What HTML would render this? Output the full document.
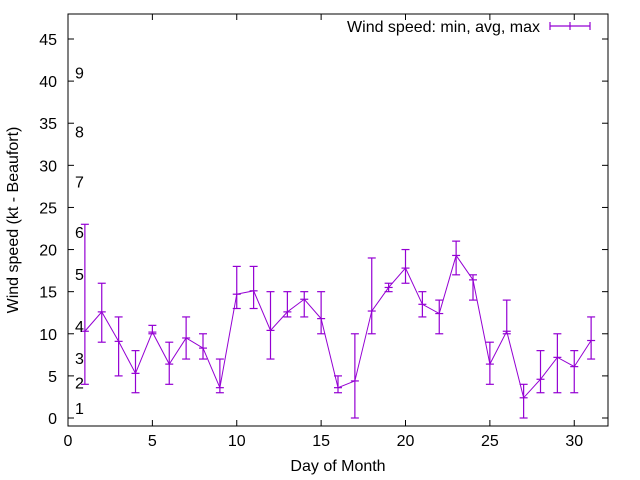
<!DOCTYPE html>
<html><head><meta charset="utf-8"><style>
html,body{margin:0;padding:0;background:#fff;}
svg{display:block;font-family:"Liberation Sans",sans-serif;}
</style></head><body>
<svg id="chart" width="640" height="480" viewBox="0 0 640 480" xmlns="http://www.w3.org/2000/svg">
<rect x="0" y="0" width="640" height="480" fill="#fff"/>
<g id="marks"></g>
<g id="axes"></g>
</svg>
<script>
const days = [1,2,3,4,5,6,7,8,9,10,11,12,13,14,15,16,17,18,19,20,21,22,23,24,25,26,27,28,29,30,31];
const avgSpeed = [10.3,12.6,9.1,5.3,10.2,6.4,9.5,8.3,3.6,14.7,15.1,10.4,12.6,14.1,11.8,3.6,4.4,12.7,15.5,17.8,13.5,12.4,19.3,16.4,6.4,10.3,2.4,4.6,7.2,6.1,9.2];
const minSpeed = [4,9,5,3,10,4,7,7,3,13,13,7,12,12,10,3,0,10,15,16,12,10,17,14,4,10,0,3,3,3,7];
const maxSpeed = [23,16,12,8,11,9,12,10,7,18,18,15,15,15,15,5,10,19,16,20,15,14,21,17,9,14,4,8,10,8,12];
const xTicks = [0,5,10,15,20,25,30];
const yTicks = [0,5,10,15,20,25,30,35,40,45];
const beaufortLabels = ["1","2","3","4","5","6","7","8","9"];
const beaufortValues = [1.2,4.2,7.1,10.9,17.1,22.1,28.1,34,41];

const L=68,R=608,T=14,B=426;
const xMin=0,xMax=32;
const sx=v=>L+(v-xMin)/(xMax-xMin)*(R-L);
const sy=v=>418-(v)*(418-39)/45;
const NS="http://www.w3.org/2000/svg";
function mk(tag,attrs,parent){const e=document.createElementNS(NS,tag);for(const k in attrs)e.setAttribute(k,attrs[k]);parent.appendChild(e);return e;}
const axes=document.getElementById('axes'), marks=document.getElementById('marks');
const C="#9400d3";
const FS=16;

const fr=mk('rect',{x:L,y:T,width:R-L,height:B-T,fill:'none',stroke:'#000','stroke-width':1},axes);



xTicks.forEach(v=>{
  const x=sx(v);
  mk('line',{x1:x,y1:B,x2:x,y2:B-6,stroke:'#000'},axes);
  mk('line',{x1:x,y1:T,x2:x,y2:T+6,stroke:'#000'},axes);
  const t=mk('text',{x:x,y:B+20,'text-anchor':'middle','font-size':FS,fill:'#000'},axes);
  t.textContent=v;
  
  
});
yTicks.forEach(v=>{
  const y=sy(v);
  mk('line',{x1:L,y1:y,x2:L+6,y2:y,stroke:'#000'},axes);
  mk('line',{x1:R,y1:y,x2:R-6,y2:y,stroke:'#000'},axes);
  const t=mk('text',{x:L-11,y:y+6,'text-anchor':'end','font-size':FS,fill:'#000'},axes);
  t.textContent=v;
  
  
});
beaufortLabels.forEach((lab,i)=>{
  const t=mk('text',{x:75,y:sy(beaufortValues[i])+6,'text-anchor':'start','font-size':FS,fill:'#000'},axes);
  t.textContent=lab;
  
  
});
const xt=mk('text',{x:338,y:471,'text-anchor':'middle','font-size':FS,fill:'#000'},axes);
xt.textContent='Day of Month';


const yt=mk('text',{x:18,y:220,'text-anchor':'middle','font-size':FS,fill:'#000',transform:'rotate(-90 18 220)'},axes);
yt.textContent='Wind speed (kt - Beaufort)';



const pts=days.map((d,i)=>sx(d)+','+sy(avgSpeed[i])).join(' ');
const pl=mk('polyline',{points:pts,fill:'none',stroke:C,'stroke-width':1},marks);


days.forEach((d,i)=>{
  const x=sx(d),y1=sy(minSpeed[i]),y2=sy(maxSpeed[i]),ya=sy(avgSpeed[i]);
  const g=mk('g',{stroke:C,'stroke-width':1.2},marks);
  
  
  mk('line',{x1:x,y1:y1,x2:x,y2:y2},g);
  mk('line',{x1:x-4,y1:y1,x2:x+4,y2:y1},g);
  mk('line',{x1:x-4,y1:y2,x2:x+4,y2:y2},g);
  mk('line',{x1:x-4,y1:ya,x2:x+4,y2:ya},g);
});

const lg=mk('g',{},axes);


const lt=mk('text',{x:540,y:32,'text-anchor':'end','font-size':FS,fill:'#000'},lg);
lt.textContent='Wind speed: min, avg, max';
mk('line',{x1:550,y1:26,x2:590,y2:26,stroke:C,'stroke-width':1.2},lg);
mk('line',{x1:550,y1:22,x2:550,y2:30,stroke:C,'stroke-width':1.2},lg);
mk('line',{x1:590,y1:22,x2:590,y2:30,stroke:C,'stroke-width':1.2},lg);
mk('line',{x1:570,y1:22,x2:570,y2:30,stroke:C,'stroke-width':1.2},lg);
</script>
</body></html>
